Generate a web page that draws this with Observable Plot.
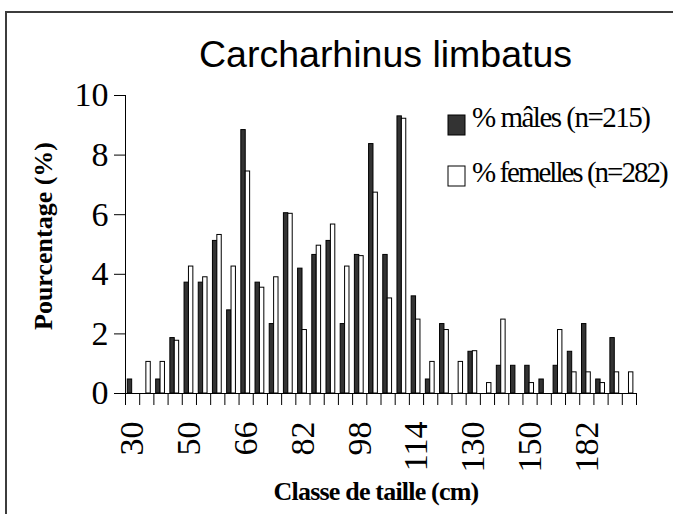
<!DOCTYPE html>
<html>
<head>
<meta charset="utf-8">
<script src="https://cdn.jsdelivr.net/npm/d3@7"></script>
<script src="https://cdn.jsdelivr.net/npm/@observablehq/plot@0.6"></script>
<style>
  body { margin: 0; background: #fff; }
  #chart { width: 673px; height: 514px; overflow: hidden; background: #fff; }
</style>
</head>
<body>
<div id="chart"></div>
<script>
// Size classes (36 classes, only every 4th is labelled on the axis)
const classIndex = d3.range(36);
const labelledClasses = [0, 4, 8, 12, 16, 20, 24, 28, 32];
const tickLabels = ["30", "50", "66", "82", "98", "114", "130", "150", "182"];

// % males (n=215)
const males = [0.47, 0, 0.47, 1.86, 3.72, 3.72, 5.12, 2.79, 8.84, 3.72, 2.33, 6.05,
               4.19, 4.65, 5.12, 2.33, 4.65, 8.37, 4.65, 9.30, 3.26, 0.47, 2.33, 0,
               1.40, 0, 0.93, 0.93, 0.93, 0.47, 0.93, 1.40, 2.33, 0.47, 1.86, 0];
// % females (n=282)
const females = [0, 1.06, 1.06, 1.77, 4.26, 3.90, 5.32, 4.26, 7.45, 3.55, 3.90, 6.03,
                 2.13, 4.96, 5.67, 4.26, 4.61, 6.74, 3.19, 9.22, 2.48, 1.06, 2.13, 1.06,
                 1.42, 0.35, 2.48, 0, 0.35, 0, 2.13, 0.71, 0.71, 0.35, 0.71, 0.71];

const yTicks = [0, 2, 4, 6, 8, 10];
const title = "Carcharhinus limbatus";
const xTitle = "Classe de taille (cm)";
const yTitle = "Pourcentage (%)";
const legendMales = "% mâles (n=215)";
const legendFemales = "% femelles (n=282)";

const maleRows = classIndex.map(i => ({cls: i, value: males[i]})).filter(d => d.value > 0);
const femaleRows = classIndex.map(i => ({cls: i, value: females[i]})).filter(d => d.value > 0);

const serif = "'Liberation Serif', 'Times New Roman', serif";

const plot = Plot.plot({
  width: 673,
  height: 514,
  marginLeft: 125,
  marginRight: 37,
  marginTop: 95,
  marginBottom: 121,
  style: {fontFamily: serif, background: "white", color: "black"},
  x: {type: "linear", domain: [0, 36]},
  y: {domain: [0, 10]},
  marks: [
    Plot.rect(maleRows, {x1: d => d.cls + 0.16, x2: d => d.cls + 0.47, y1: 0, y2: "value",
      fill: "#333333", stroke: "black", strokeWidth: 1}),
    Plot.rect(femaleRows, {x1: d => d.cls + 0.47, x2: d => d.cls + 0.78, y1: 0, y2: "value",
      fill: "white", stroke: "black", strokeWidth: 1}),
    Plot.ruleY([0], {stroke: "black"}),
    Plot.ruleX([0], {y1: 0, y2: 10, stroke: "black"}),
    Plot.axisY({ticks: yTicks, tickSize: 11, tickPadding: 6, fontSize: 34, label: null, stroke: "black"}),
    Plot.axisX({ticks: d3.range(37), tickSize: 12, tickFormat: () => "", label: null, stroke: "black"}),
    Plot.axisX({ticks: labelledClasses.map(i => i + 0.5),
      tickFormat: d => tickLabels[labelledClasses.indexOf(d - 0.5)],
      tickSize: 0, tickPadding: 28, tickRotate: -90, fontSize: 34, label: null})
  ]
});

document.getElementById("chart").appendChild(plot);

const svg = d3.select(plot);
// outer frame (cropped at right and bottom)
svg.append("path").attr("d", "M6,520V12H680").attr("fill", "none")
  .attr("stroke", "#3c3c3c").attr("stroke-width", 2);

svg.append("text").text(title)
  .attr("x", 199).attr("y", 67).attr("text-anchor", "start")
  .attr("font-family", "'Liberation Sans', Arial, sans-serif")
  .attr("font-size", 37.5).attr("fill", "black");

svg.append("text").text(xTitle)
  .attr("x", 376).attr("y", 500).attr("text-anchor", "middle")
  .attr("font-family", serif).attr("font-weight", "bold")
  .attr("font-size", 26).attr("letter-spacing", "-0.8px").attr("fill", "black");

svg.append("text").text(yTitle)
  .attr("transform", "translate(52,236) rotate(-90)").attr("text-anchor", "middle")
  .attr("font-family", serif).attr("font-weight", "bold")
  .attr("font-size", 26).attr("fill", "black");

// legend
const legend = [
  {label: legendMales, fill: "#333333", sy: 115, ty: 127, ls: "-1.5px"},
  {label: legendFemales, fill: "white", sy: 166, ty: 182, ls: "-2px"}
];
for (const l of legend) {
  svg.append("rect").attr("x", 448).attr("y", l.sy).attr("width", 17).attr("height", 20)
    .attr("fill", l.fill).attr("stroke", "black").attr("stroke-width", 1);
  svg.append("text").text(l.label).attr("x", 472).attr("y", l.ty).attr("text-anchor", "start")
    .attr("font-family", serif).attr("font-size", 29)
    .attr("letter-spacing", l.ls).attr("fill", "black");
}
</script>
</body>
</html>
